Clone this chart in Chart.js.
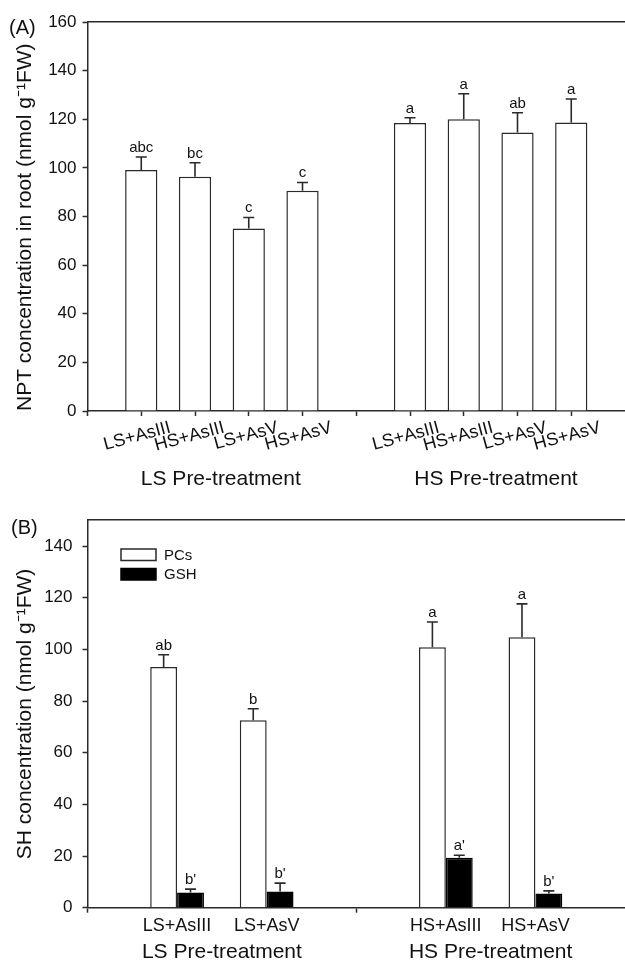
<!DOCTYPE html>
<html><head><meta charset="utf-8">
<script src="https://cdn.jsdelivr.net/npm/chart.js@4.4.1/dist/chart.umd.min.js"></script>
<style>
html,body{margin:0;padding:0;background:#fff;}
#wrapA{position:absolute;left:0;top:0;width:625px;height:500px;}
#wrapB{position:absolute;left:0;top:500px;width:625px;height:464px;}
</style></head><body>
<div id="wrapA"><canvas id="chartA" width="625" height="500"></canvas></div>
<div id="wrapB"><canvas id="chartB" width="625" height="464"></canvas></div>
<script>
// ---------- Panel A data ----------
const treatmentsA = ['LS+AsIII', 'HS+AsIII', 'LS+AsV', 'HS+AsV'];
const nptLS = [99.1, 96.4, 75.1, 90.6];
const nptLSErr = [5.4, 5.7, 4.5, 3.4];
const nptHS = [118.5, 120.0, 114.6, 118.7];
const nptHSErr = [2.1, 10.5, 8.1, 9.6];
const lettersLS = ['abc', 'bc', 'c', 'c'];
const lettersHS = ['a', 'a', 'ab', 'a'];
const groupLabels = ['LS Pre-treatment', 'HS Pre-treatment'];
const groupPosA = [2.48, 7.6];
const groupPosB = [1.5, 4.5];
const titleA = 'NPT concentration in root (nmol g\u207B\u00B9FW)';

// ---------- Panel B data ----------
const treatmentsB_LS = ['LS+AsIII', 'LS+AsV'];
const treatmentsB_HS = ['HS+AsIII', 'HS+AsV'];
const pcsVals = [93.2, 72.6, 100.8, 104.7];
const pcsErr = [4.7, 4.4, 9.8, 12.9];
const gshVals = [5.9, 6.3, 19.3, 5.5];
const gshErr = [1.3, 3.2, 1.0, 1.0];
const pcsLetters = ['ab', 'b', 'a', 'a'];
const gshLetters = ["b'", "b'", "a'", "b'"];
const seriesNames = ['PCs', 'GSH'];
const titleB = 'SH concentration (nmol g\u207B\u00B9FW)';

const FONT = "'Liberation Sans', Arial, Helvetica, sans-serif";
const INK = '#2a2a2a';

// build padded arrays (empty slots at ends and between groups)
const labelsA = [''].concat(treatmentsA, [''], treatmentsA, ['']);
const dataA = [null].concat(nptLS, [null], nptHS, [null]);
const errA = [null].concat(nptLSErr, [null], nptHSErr, [null]);
const letA = [null].concat(lettersLS, [null], lettersHS, [null]);

const labelsB = [''].concat(treatmentsB_LS, [''], treatmentsB_HS, ['']);
const pad2 = (a) => [null, a[0], a[1], null, a[2], a[3], null];

const errPlugin = {
  id: 'errLetters',
  afterDatasetsDraw(chart) {
    const ctx = chart.ctx;
    const ys = chart.scales.y;
    ctx.save();
    chart.data.datasets.forEach((ds, di) => {
      const meta = chart.getDatasetMeta(di);
      meta.data.forEach((el, i) => {
        const v = ds.data[i];
        if (v === null || v === undefined) return;
        const top = ys.getPixelForValue(v + ds.errors[i]);
        ctx.strokeStyle = INK;
        ctx.lineWidth = 1.6;
        ctx.beginPath();
        ctx.moveTo(el.x, el.y);
        ctx.lineTo(el.x, top);
        ctx.moveTo(el.x - 5.5, top);
        ctx.lineTo(el.x + 5.5, top);
        ctx.stroke();
        ctx.fillStyle = '#111';
        ctx.font = '15px ' + FONT;
        ctx.textAlign = 'center';
        ctx.textBaseline = 'alphabetic';
        ctx.fillText(ds.letters[i], el.x, top - 5);
      });
    });
    ctx.restore();
  }
};

const tagPlugin = {
  id: 'panelTag',
  afterDraw(chart, args, opts) {
    const ctx = chart.ctx;
    ctx.save();
    ctx.fillStyle = '#111';
    ctx.font = opts.size + 'px ' + FONT;
    ctx.textAlign = 'left';
    ctx.textBaseline = 'middle';
    ctx.fillText(opts.text, opts.x, opts.y);
    ctx.restore();
  }
};

const legendPlugin = {
  id: 'boxLegend',
  afterDraw(chart, args, opts) {
    if (!opts.show) return;
    const ctx = chart.ctx;
    ctx.save();
    chart.data.datasets.forEach((ds, i) => {
      const bx = opts.x, by = opts.y + i * opts.step;
      ctx.fillStyle = ds.backgroundColor;
      ctx.fillRect(bx, by, opts.w, opts.h);
      ctx.strokeStyle = ds.borderColor;
      ctx.lineWidth = 1.5;
      ctx.strokeRect(bx, by, opts.w, opts.h);
      ctx.fillStyle = '#111';
      ctx.font = '15px ' + FONT;
      ctx.textAlign = 'left';
      ctx.textBaseline = 'middle';
      ctx.fillText(ds.label, bx + opts.w + 8, by + opts.h / 2 + 1);
    });
    ctx.restore();
  }
};

function yScale(max, title, labelPad, titlePad, align) {
  return {
    type: 'linear', axis: 'y', position: 'left', min: 0, max: max,
    grid: { display: true, drawOnChartArea: false, drawTicks: true, tickLength: 5, tickWidth: 1.5, tickColor: INK },
    border: { display: true, color: INK, width: 1.5 },
    ticks: { stepSize: 20, includeBounds: false, padding: labelPad, color: '#111', font: { family: FONT, size: 17 } },
    title: { display: true, text: title, align: align, color: '#111', font: { family: FONT, size: 21, lineHeight: 1.2 }, padding: { top: titlePad, bottom: 0 } },
    afterFit: (s) => { s.width = 87.5; }
  };
}

function groupScale(max, pos, height, pad) {
  return {
    type: 'linear', axis: 'x', position: 'bottom', weight: 1, min: 0, max: max, offset: false,
    grid: { display: false, offset: false, drawTicks: false, drawOnChartArea: false },
    border: { display: false },
    afterBuildTicks: (s) => { s.ticks = pos.map(v => ({ value: v })); },
    ticks: { autoSkip: false, maxRotation: 0, minRotation: 0, padding: pad, color: '#111',
             font: { family: FONT, size: 21 }, callback: (v, i) => groupLabels[i] },
    afterFit: (s) => { s.height = height; s.paddingLeft = 0; s.paddingRight = 0; }
  };
}

function topFrame() {
  return {
    type: 'linear', axis: 'x', position: 'top', min: 0, max: 1, offset: false,
    grid: { display: false, offset: false, drawTicks: false, drawOnChartArea: false },
    ticks: { display: false },
    border: { display: true, color: INK, width: 1.5 },
    afterFit: (s) => { s.height = 0; s.paddingLeft = 0; s.paddingRight = 0; }
  };
}

// ---------- Chart A ----------
new Chart(document.getElementById('chartA'), {
  type: 'bar',
  data: {
    labels: labelsA,
    datasets: [{
      label: 'NPT', data: dataA, errors: errA, letters: letA,
      xAxisID: 'x', yAxisID: 'y',
      backgroundColor: '#ffffff', borderColor: INK, borderWidth: 1.5,
      categoryPercentage: 0.6, barPercentage: 1.0
    }]
  },
  options: {
    responsive: false, animation: false, devicePixelRatio: 1,
    layout: { padding: { top: 22, left: 0, right: 0, bottom: 0 } },
    plugins: {
      legend: { display: false }, tooltip: { enabled: false },
      panelTag: { text: '(A)', x: 9, y: 28, size: 20 },
      boxLegend: { show: false }
    },
    scales: {
      x: {
        type: 'category', axis: 'x', position: 'bottom', weight: 0, offset: false,
        grid: { display: true, offset: false, drawOnChartArea: false, drawTicks: true, tickLength: 5, tickWidth: 1.5,
                tickColor: (c) => (c.index === labelsA.length - 1 ? 'rgba(0,0,0,0)' : INK) },
        border: { display: true, color: INK, width: 1.5 },
        ticks: { autoSkip: false, minRotation: 15, maxRotation: 15, labelOffset: 29, padding: 1, color: '#111',
                 font: { family: FONT, size: 18 } },
        afterFit: (s) => { s.height = 55; s.paddingLeft = 0; s.paddingRight = 0; }
      },
      xGroup: groupScale(10, groupPosA, 34, 1),
      xTop: topFrame(),
      y: yScale(160, titleA, 6, 13, 'start')
    }
  },
  plugins: [errPlugin, tagPlugin, legendPlugin]
});

// ---------- Chart B ----------
new Chart(document.getElementById('chartB'), {
  type: 'bar',
  data: {
    labels: labelsB,
    datasets: [{
      label: seriesNames[0], data: pad2(pcsVals), errors: pad2(pcsErr), letters: pad2(pcsLetters),
      xAxisID: 'x', yAxisID: 'y',
      backgroundColor: '#ffffff', borderColor: INK, borderWidth: 1.5,
      categoryPercentage: 0.6, barPercentage: 1.0
    }, {
      label: seriesNames[1], data: pad2(gshVals), errors: pad2(gshErr), letters: pad2(gshLetters),
      xAxisID: 'x', yAxisID: 'y',
      backgroundColor: '#000000', borderColor: '#000000', borderWidth: 1.5,
      categoryPercentage: 0.6, barPercentage: 1.0
    }]
  },
  options: {
    responsive: false, animation: false, devicePixelRatio: 1,
    layout: { padding: { top: 18.3, left: 0, right: 0, bottom: 0 } },
    plugins: {
      legend: { display: false }, tooltip: { enabled: false },
      panelTag: { text: '(B)', x: 11, y: 28, size: 20 },
      boxLegend: { show: true, x: 121, y: 49, w: 35, h: 11.5, step: 19.5 }
    },
    scales: {
      x: {
        type: 'category', axis: 'x', position: 'bottom', weight: 0, offset: false,
        grid: { display: true, offset: false, drawOnChartArea: false, drawTicks: true, tickLength: 5, tickWidth: 1.5,
                tickColor: (c) => ((c.index === 0 || c.index === 3) ? INK : 'rgba(0,0,0,0)') },
        border: { display: true, color: INK, width: 1.5 },
        ticks: { autoSkip: false, minRotation: 0, maxRotation: 0, padding: 3, color: '#111',
                 font: { family: FONT, size: 18 } },
        afterFit: (s) => { s.height = 32; s.paddingLeft = 0; s.paddingRight = 0; }
      },
      xGroup: groupScale(6, groupPosB, 24.3, 0),
      xTop: topFrame(),
      y: yScale(150, titleB, 10, 13, 'center')
    }
  },
  plugins: [errPlugin, tagPlugin, legendPlugin]
});
</script>
</body></html>
